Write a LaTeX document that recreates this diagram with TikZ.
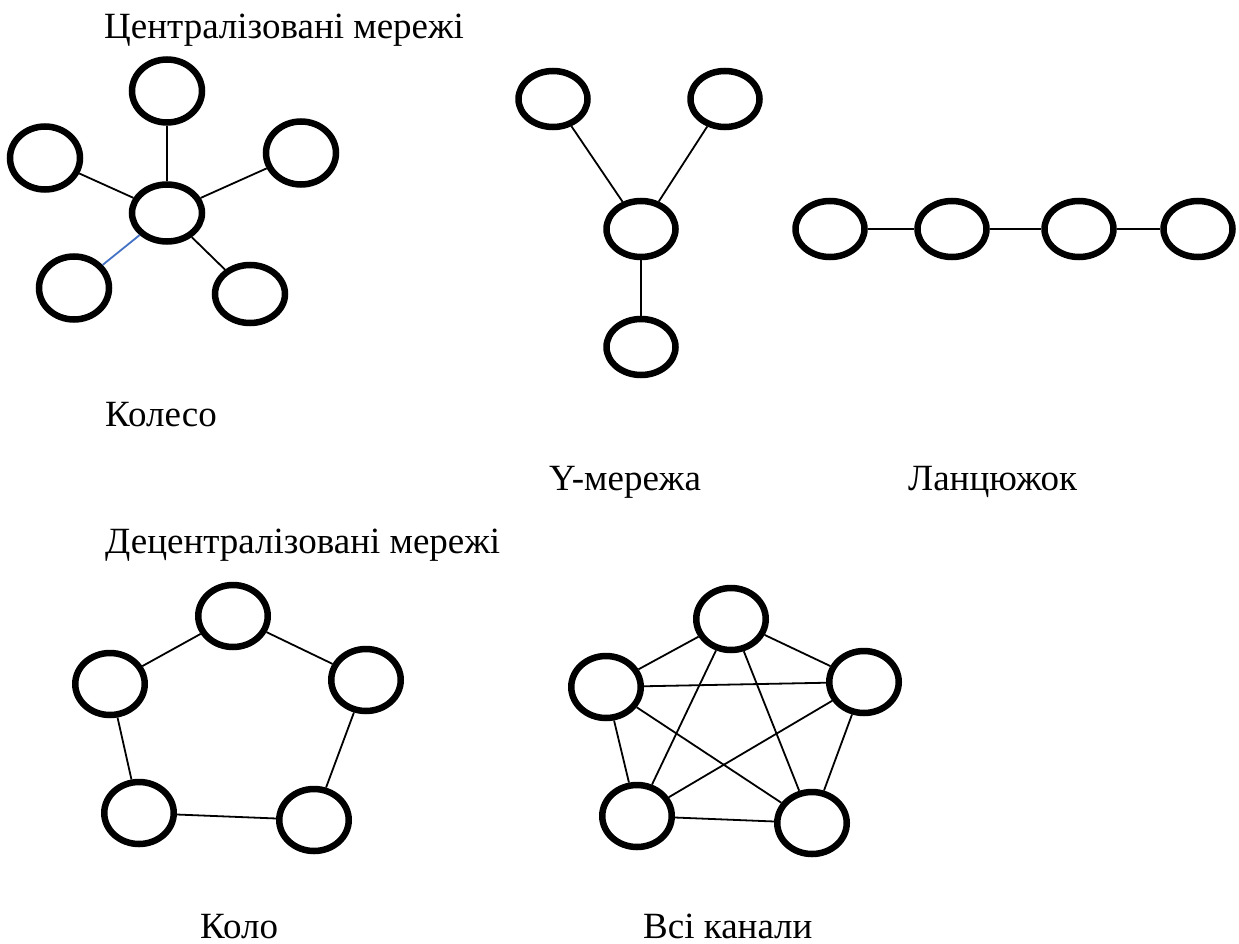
\documentclass[tikz,border=0pt]{standalone}
\usepackage{fontspec}
\setmainfont{Liberation Serif}
\newfontfamily\timescyr{Liberation Serif}
\usepackage{tikz}
\usetikzlibrary{shapes.geometric}
\definecolor{linkblue}{RGB}{68,114,196}
\tikzset{
  vert/.style={draw,ellipse,line width=6.5pt,minimum width=70pt,minimum height=63pt,inner sep=0pt},
  vsmall/.style={vert,minimum width=69pt,minimum height=56pt},
  link/.style={line width=1.8pt},
  lbl/.style={anchor=base west,inner sep=0pt,text depth=0pt}
}

\begin{document}
\begin{tikzpicture}[x=1pt,y=-1pt,font=\timescyr\fontsize{37}{44}\selectfont]
\useasboundingbox (0,0) rectangle (1239,944);
\node[lbl] (tcen) at (104,39) {Централізовані мережі};
\node[lbl] (tkol) at (105,426) {Колесо};
\node[lbl] (ty) at (549,490) {Y-мережа};
\node[lbl] (tlan) at (908,490) {Ланцюжок};
\node[lbl] (tdec) at (105,553) {Децентралізовані мережі};
\node[lbl] (tkolo) at (200,938) {Коло};
\node[lbl] (tall) at (643,938) {Всі канали};
\foreach \n/\x/\y in {kt/167/91,kl/45/158,kr/301/153,kbl/74/288}
  \node[vert] (\n) at (\x,\y) {};
\node[vert,minimum height=57pt] (kc) at (167,213) {};
\node[vert,minimum height=58pt] (kbr) at (250,294) {};
\foreach \n in {kt,kl,kr,kbr}\draw[link](\n)--(kc);
\draw[link,linkblue](kc)--(kbl);
\foreach \n/\x/\y in {yl/553/99,yr/725/99,yc/641/229,yb/641/347}
  \node[vsmall] (\n) at (\x,\y) {};
\foreach \n in {yl,yr,yb}\draw[link](\n)--(yc);
\foreach \x [count=\c from 1] in {830,952,1079,1198}
  \node[vsmall] (l\c) at (\x,229) {};
\foreach \c in {1,2,3}{
  \pgfmathtruncatemacro{\d}{\c+1}
  \draw[link](l\c)--(l\d);
}
\foreach \n/\x/\y in {o1/233/616,o2/366/680,o3/314/820,o4/139/813,o5/110/684}
  \node[vert,minimum width=69.5pt,minimum height=62pt] (\n) at (\x,\y) {};
\draw[link](o1)--(o2)--(o3)--(o4)--(o5)--(o1);
\foreach \n/\x/\y in {a1/731/619,a2/864/682,a3/812/823,a4/637/816,a5/606/687}
  \node[vert,minimum width=69.5pt,minimum height=62pt] (\n) at (\x,\y) {};
\foreach \i in {1,...,4}{
  \pgfmathtruncatemacro{\j}{\i+1}
  \foreach \k in {\j,...,5}\draw[link](a\i)--(a\k);
}
\end{tikzpicture}
\end{document}
